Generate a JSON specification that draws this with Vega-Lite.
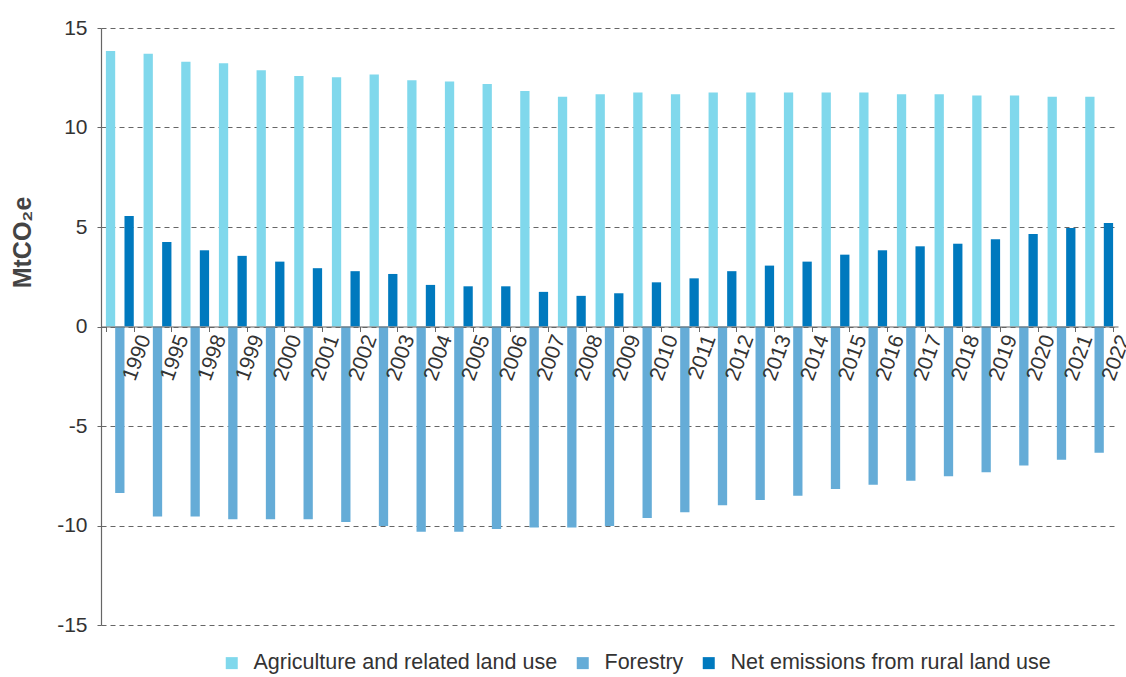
{
  "$schema": "https://vega.github.io/schema/vega-lite/v6.json",
  "width": 1017,
  "height": 597,
  "autosize": {"type": "none"},
  "padding": {"left": 101, "top": 28, "right": 8, "bottom": 52},
  "background": "white",
  "config": {"view": {"stroke": null}, "font": "Liberation Sans"},
  "data": {"values": [
    {"year": "1990", "agri": 13.85, "forestry": -8.37, "net": 5.55},
    {"year": "1995", "agri": 13.71, "forestry": -9.55, "net": 4.25},
    {"year": "1998", "agri": 13.30, "forestry": -9.55, "net": 3.83},
    {"year": "1999", "agri": 13.23, "forestry": -9.68, "net": 3.55},
    {"year": "2000", "agri": 12.88, "forestry": -9.68, "net": 3.26},
    {"year": "2001", "agri": 12.59, "forestry": -9.68, "net": 2.93},
    {"year": "2002", "agri": 12.53, "forestry": -9.82, "net": 2.78},
    {"year": "2003", "agri": 12.66, "forestry": -10.02, "net": 2.64},
    {"year": "2004", "agri": 12.38, "forestry": -10.32, "net": 2.09},
    {"year": "2005", "agri": 12.31, "forestry": -10.32, "net": 2.02},
    {"year": "2006", "agri": 12.18, "forestry": -10.17, "net": 2.02},
    {"year": "2007", "agri": 11.84, "forestry": -10.10, "net": 1.74},
    {"year": "2008", "agri": 11.54, "forestry": -10.10, "net": 1.54},
    {"year": "2009", "agri": 11.67, "forestry": -10.02, "net": 1.67},
    {"year": "2010", "agri": 11.76, "forestry": -9.62, "net": 2.22},
    {"year": "2011", "agri": 11.67, "forestry": -9.33, "net": 2.42},
    {"year": "2012", "agri": 11.76, "forestry": -8.98, "net": 2.78},
    {"year": "2013", "agri": 11.76, "forestry": -8.72, "net": 3.06},
    {"year": "2014", "agri": 11.76, "forestry": -8.50, "net": 3.26},
    {"year": "2015", "agri": 11.76, "forestry": -8.17, "net": 3.61},
    {"year": "2016", "agri": 11.76, "forestry": -7.95, "net": 3.83},
    {"year": "2017", "agri": 11.67, "forestry": -7.75, "net": 4.03},
    {"year": "2018", "agri": 11.67, "forestry": -7.53, "net": 4.16},
    {"year": "2019", "agri": 11.61, "forestry": -7.33, "net": 4.38},
    {"year": "2020", "agri": 11.61, "forestry": -6.98, "net": 4.65},
    {"year": "2021", "agri": 11.54, "forestry": -6.70, "net": 4.95},
    {"year": "2022", "agri": 11.54, "forestry": -6.35, "net": 5.20}
  ]},
  "transform": [{"fold": ["agri", "forestry", "net"], "as": ["series", "value"]}],
  "mark": {"type": "bar"},
  "encoding": {
    "x": {
      "field": "year", "type": "nominal", "sort": null,
      "scale": {"paddingInner": 0.26, "paddingOuter": 0.13},
      "axis": {
        "title": null, "orient": "bottom", "offset": -298.5, "zindex": 1,
        "domainColor": "#666666", "domainWidth": 1.2,
        "tickBand": "extent", "ticks": true, "tickSize": 5, "tickColor": "#666666",
        "labelAngle": -70, "labelAlign": "right", "labelBaseline": "middle",
        "labelOffset": 25, "labelPadding": 4, "labelBound": false, "labelOverlap": false,
        "labelFont": "Liberation Sans", "labelFontSize": 21, "labelColor": "#333333",
        "grid": false
      }
    },
    "xOffset": {
      "field": "series", "type": "nominal", "sort": ["agri", "forestry", "net"],
      "scale": {"paddingInner": 0, "paddingOuter": 0}
    },
    "y": {
      "field": "value", "type": "quantitative",
      "scale": {"domain": [-15, 15], "nice": false, "zero": false},
      "axis": {
        "values": [-15, -10, -5, 0, 5, 10, 15],
        "labelExpr": "'' + datum.value",
        "title": "MtCO₂e", "titleFont": "Liberation Sans", "titleFontSize": 25, "titleFontWeight": "bold",
        "titleColor": "#444444", "titleAngle": -90, "titleAlign": "center", "titleBaseline": "middle",
        "titleX": -79, "titleY": 214,
        "domainColor": "#666666", "domainWidth": 1.2,
        "tickSize": 4, "tickColor": "#666666",
        "labelFont": "Liberation Sans", "labelFontSize": 21, "labelColor": "#333333", "labelPadding": 10,
        "grid": true, "gridColor": "#666666", "gridDash": [5, 4], "gridWidth": 1
      }
    },
    "color": {
      "field": "series", "type": "nominal",
      "scale": {"domain": ["agri", "forestry", "net"], "range": ["#80d8ec", "#65acd7", "#0079be"]},
      "legend": {
        "title": null, "orient": "none", "direction": "horizontal",
        "legendX": 120, "legendY": 624,
        "symbolType": "square", "symbolSize": 144, "symbolStrokeWidth": 0, "symbolOpacity": 1,
        "labelFont": "Liberation Sans", "labelFontSize": 21.5, "labelColor": "#333333",
        "labelOffset": 11, "columnPadding": 14, "labelLimit": 0,
        "labelExpr": "datum.value == 'agri' ? 'Agriculture and related land use' : datum.value == 'forestry' ? 'Forestry' : 'Net emissions from rural land use'"
      }
    }
  }
}
